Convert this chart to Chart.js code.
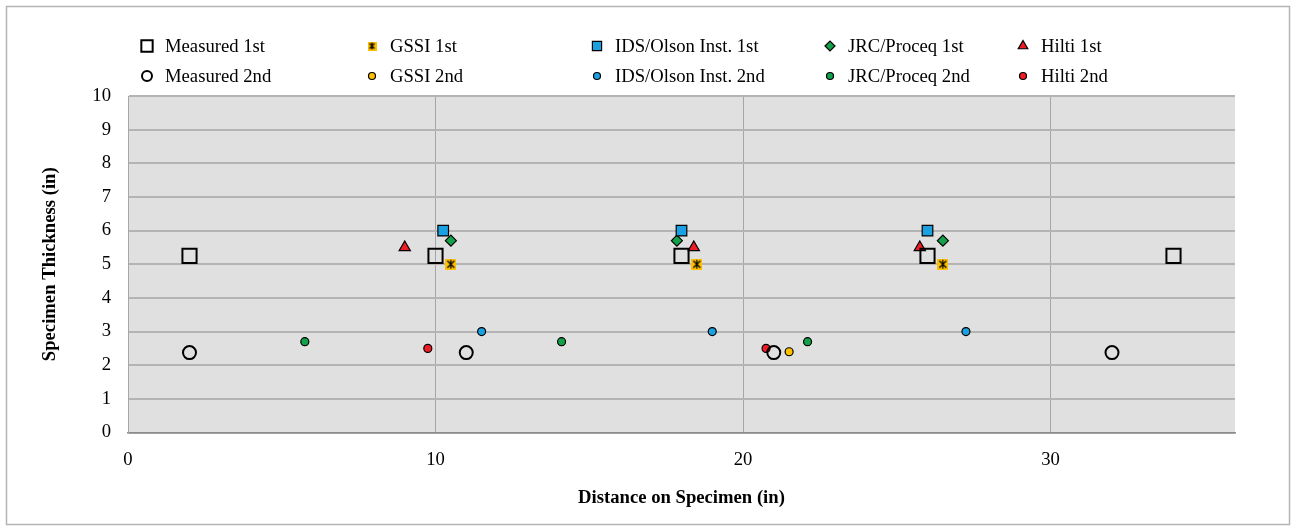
<!DOCTYPE html>
<html>
<head>
<meta charset="utf-8">
<script src="https://cdn.jsdelivr.net/npm/chart.js@4"></script>
<style>
  body { margin: 0; background: #fff; }
</style>
</head>
<body>
<canvas id="chart" width="1296" height="531"></canvas>
<script>
// values (inches)
const measured1X = [2, 10, 18, 26, 34];
const measured1Y = [5.25, 5.25, 5.25, 5.25, 5.25];
const measured2X = [2, 11, 21, 32];
const measured2Y = [2.375, 2.375, 2.375, 2.375];
const gssi1X = [10.5, 18.5, 26.5];
const gssi1Y = [5, 5, 5];
const gssi2X = [21.5];
const gssi2Y = [2.4];
const ids1X = [10.25, 18, 26];
const ids1Y = [6, 6, 6];
const ids2X = [11.5, 19, 27.25];
const ids2Y = [3, 3, 3];
const jrc1X = [10.5, 17.85, 26.5];
const jrc1Y = [5.7, 5.7, 5.7];
const jrc2X = [5.75, 14.1, 22.1];
const jrc2Y = [2.7, 2.7, 2.7];
const hilti1X = [9, 18.4, 25.75];
const hilti1Y = [5.5, 5.5, 5.5];
const hilti2X = [9.75, 20.75];
const hilti2Y = [2.5, 2.5];

const xTicks = [0, 10, 20, 30];
const FONT = "'Liberation Serif', 'Times New Roman', serif";

function pts(xs, ys) {
    return xs.map((x, i) => ({ x, y: ys[i] }));
}

// orange square with an asterisk, like the Excel star marker
function starMarker(size) {
    const c = document.createElement('canvas');
    c.width = size;
    c.height = size;
    const g = c.getContext('2d');
    g.fillStyle = '#ffc000';
    g.fillRect(0, 0, size, size);
    g.strokeStyle = '#000';
    g.lineWidth = 1.2;
    g.beginPath();
    g.moveTo(2, 2); g.lineTo(size - 2, size - 2);
    g.moveTo(size - 2, 2); g.lineTo(2, size - 2);
    g.moveTo(size / 2, 1); g.lineTo(size / 2, size - 1);
    g.stroke();
    return c;
}

const series = [
    { label: 'Measured 1st', data: pts(measured1X, measured1Y), pointStyle: 'rect', radius: 10, legendRadius: 8, bg: 'rgba(0,0,0,0)', border: '#000', bw: 2 },
    { label: 'Measured 2nd', data: pts(measured2X, measured2Y), pointStyle: 'circle', radius: 6.5, legendRadius: 5, bg: 'rgba(0,0,0,0)', border: '#000', bw: 2 },
    { label: 'GSSI 1st', data: pts(gssi1X, gssi1Y), pointStyle: starMarker(11), legendStyle: starMarker(9), radius: 6, legendRadius: 5, bg: '#ffc000', border: '#000', bw: 1 },
    { label: 'GSSI 2nd', data: pts(gssi2X, gssi2Y), pointStyle: 'circle', radius: 4, legendRadius: 3.5, bg: '#ffc000', border: '#000', bw: 1.2 },
    { label: 'IDS/Olson Inst. 1st', data: pts(ids1X, ids1Y), pointStyle: 'rect', radius: 7.5, legendRadius: 6.5, bg: '#1ba1e2', border: '#000', bw: 1.2 },
    { label: 'IDS/Olson Inst. 2nd', data: pts(ids2X, ids2Y), pointStyle: 'circle', radius: 4, legendRadius: 3.5, bg: '#1ba1e2', border: '#000', bw: 1.2 },
    { label: 'JRC/Proceq 1st', data: pts(jrc1X, jrc1Y), pointStyle: 'rectRot', radius: 5.5, legendRadius: 5, bg: '#13a14a', border: '#000', bw: 1.2 },
    { label: 'JRC/Proceq 2nd', data: pts(jrc2X, jrc2Y), pointStyle: 'circle', radius: 4, legendRadius: 3.5, bg: '#13a14a', border: '#000', bw: 1.2 },
    { label: 'Hilti 1st', data: pts(hilti1X, hilti1Y), pointStyle: 'triangle', radius: 6.5, legendRadius: 5.5, bg: '#ee1c25', border: '#000', bw: 1.2 },
    { label: 'Hilti 2nd', data: pts(hilti2X, hilti2Y), pointStyle: 'circle', radius: 4, legendRadius: 3.5, bg: '#ee1c25', border: '#000', bw: 1.2 }
];

// legend grid: 5 columns x 2 rows
const legendMarkerX = [147, 372, 597, 830, 1023];
const legendRowY = [46, 76];

const frame = {
    id: 'frame',
    beforeDraw(chart) {
        const { ctx, chartArea: a } = chart;
        ctx.save();
        ctx.fillStyle = '#fff';
        ctx.fillRect(0, 0, chart.width, chart.height);
        ctx.strokeStyle = '#b4b4b4';
        ctx.lineWidth = 1.5;
        ctx.strokeRect(6.5, 6.5, 1283, 518);
        ctx.fillStyle = '#e0e0e0';
        ctx.fillRect(a.left, a.top, a.right - a.left, a.bottom - a.top);
        ctx.restore();
    },
    afterDraw(chart) {
        const ctx = chart.ctx;
        ctx.save();
        ctx.font = '18.67px ' + FONT;
        ctx.textBaseline = 'middle';
        ctx.textAlign = 'left';
        chart.data.datasets.forEach((ds, i) => {
            const s = series[i];
            const x = legendMarkerX[Math.floor(i / 2)];
            const y = legendRowY[i % 2];
            ctx.fillStyle = s.bg;
            ctx.strokeStyle = s.border;
            ctx.lineWidth = s.bw;
            Chart.helpers.drawPoint(ctx, {
                pointStyle: s.legendStyle || s.pointStyle,
                radius: s.legendRadius,
                borderWidth: s.bw,
                rotation: 0
            }, x, y);
            ctx.fillStyle = '#000';
            ctx.fillText(ds.label, x + 18, y + 1);
        });
        ctx.restore();
    }
};

new Chart(document.getElementById('chart'), {
    type: 'scatter',
    data: {
        datasets: series.map(s => ({
            label: s.label,
            data: s.data,
            pointStyle: s.pointStyle,
            pointRadius: s.radius,
            pointHoverRadius: s.radius,
            backgroundColor: s.bg,
            borderColor: s.border,
            pointBorderWidth: s.bw,
            showLine: false
        }))
    },
    options: {
        responsive: false,
        animation: false,
        devicePixelRatio: 1,
        layout: { padding: { left: 6, right: 61, top: 96, bottom: 6 } },
        plugins: {
            legend: { display: false },
            tooltip: { enabled: false }
        },
        scales: {
            x: {
                type: 'linear',
                min: 0,
                max: 36,
                afterFit: s => { s.height = 92.5; },
                afterBuildTicks: s => { s.ticks = xTicks.map(v => ({ value: v })); },
                ticks: { includeBounds: false, color: '#000', padding: 16, font: { family: FONT, size: 18.67 } },
                grid: { color: '#a6a6a6', lineWidth: 1, drawTicks: false },
                border: { color: '#8c8c8c', width: 1.5 },
                title: {
                    display: true,
                    text: 'Distance on Specimen (in)',
                    color: '#000',
                    font: { family: FONT, size: 18.67, weight: 'bold' },
                    padding: { top: 0, bottom: 16 }
                }
            },
            y: {
                min: 0,
                max: 10,
                afterFit: s => { s.width = 122; },
                ticks: { stepSize: 1, color: '#000', padding: 17, font: { family: FONT, size: 18.67 } },
                grid: { color: '#b4b4b4', lineWidth: 2, drawTicks: false },
                border: { color: '#a6a6a6', width: 1 },
                title: {
                    display: true,
                    text: 'Specimen Thickness (in)',
                    color: '#000',
                    font: { family: FONT, size: 18.67, weight: 'bold' },
                    padding: { top: 33, bottom: 0 }
                }
            }
        }
    },
    plugins: [frame]
});
</script>
</body>
</html>
